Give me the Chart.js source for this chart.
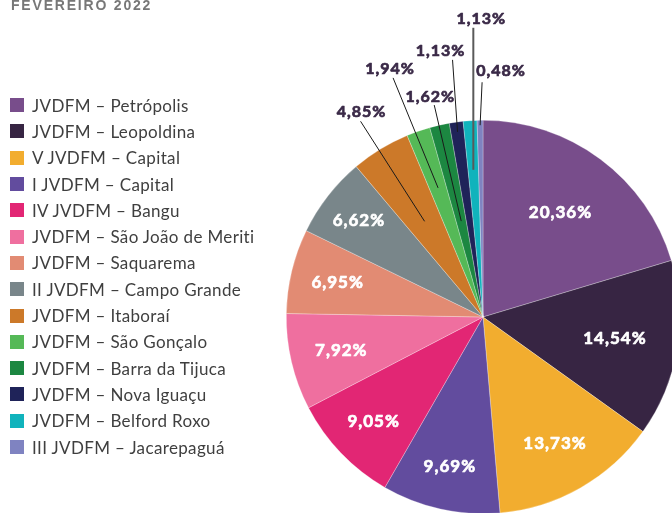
<!DOCTYPE html>
<html>
<head>
<meta charset="utf-8">
<script src="https://cdn.jsdelivr.net/npm/chart.js@4/dist/chart.umd.min.js"></script>
<style>
  html, body { margin: 0; padding: 0; background: #fff; }
  body { width: 672px; height: 513px; overflow: hidden; position: relative; font-family: Lato, "Open Sans", sans-serif; }
  #wrap { position: absolute; left: 0; top: 0; width: 700px; height: 540px; }
  #title { position: absolute; left: 11px; top: -3px; z-index: 2; font: bold 14px "Liberation Sans", Arial, sans-serif; letter-spacing: 1.8px; color: #777; }
  #legend { position: absolute; left: 10px; top: 92px; z-index: 2; margin: 0; padding: 0; list-style: none; }
  #legend li { height: 26.3px; display: flex; align-items: center; font-size: 17px; letter-spacing: 0.35px; color: #3f3f3f; white-space: nowrap; }
  #legend span { width: 14px; height: 14px; margin-right: 8px; flex: none; }
</style>
</head>
<body>
<div id="title">FEVEREIRO 2022</div>
<ul id="legend"></ul>
<div id="wrap"><canvas id="chart-pie" width="700" height="540"></canvas></div>
<script>
(function () {
  "use strict";

  const categories = [
    "JVDFM – Petrópolis",
    "JVDFM – Leopoldina",
    "V JVDFM – Capital",
    "I JVDFM – Capital",
    "IV JVDFM – Bangu",
    "JVDFM – São João de Meriti",
    "JVDFM – Saquarema",
    "II JVDFM – Campo Grande",
    "JVDFM – Itaboraí",
    "JVDFM – São Gonçalo",
    "JVDFM – Barra da Tijuca",
    "JVDFM – Nova Iguaçu",
    "JVDFM – Belford Roxo",
    "III JVDFM – Jacarepaguá",
  ];

  const shares = [20.36, 14.54, 13.73, 9.69, 9.05, 7.92, 6.95, 6.62, 4.85, 1.94, 1.62, 1.13, 1.13, 0.48];

  const sliceColors = [
    "#784d8b", "#372543", "#f2ad2f", "#624c9e", "#e22674", "#ef6f9f", "#e28b73",
    "#79868a", "#cc7929", "#55b957", "#1c8741", "#1f2359", "#10b3bc", "#7f83c1",
  ];

  // label placement (fraction of the radius along each slice's middle angle)
  const INSIDE_R = [0.66, 0.68, 0.74, 0.78, 0.77, 0.74, 0.76, 0.80];
  // small slices: [line start (radius fraction), line dx, line dy, text dx, text dy, colour, width]
  const LEADERS = [
    [0.57, -64, -100, 1, -9, "#1a1a1a", 1],
    [0.695, -45, -110, -3, -9, "#1a1a1a", 1],
    [0.50, -27, -116, -4, -8, "#1a1a1a", 1],
    [0.95, -5, -72, -12, -9, "#1a1a1a", 1],
    [0.75, 0, -142, 8, -9, "#5a5a5a", 2],
    [0.975, 2, -43, 19, -11, "#1a1a1a", 1],
  ];

  const pct = (v) => v.toFixed(2).replace(".", ",") + "%";

  // HTML legend
  const legend = document.getElementById("legend");
  categories.forEach((name, i) => {
    const li = document.createElement("li");
    const sw = document.createElement("span");
    sw.style.background = sliceColors[i];
    li.appendChild(sw);
    li.appendChild(document.createTextNode(name));
    legend.appendChild(li);
  });

  // bold text with a thin outline of the same colour, to get the heavy look
  function heavyText(ctx, text, x, y, color) {
    ctx.fillStyle = color;
    ctx.strokeStyle = color;
    ctx.lineWidth = 0.7;
    ctx.lineJoin = "round";
    ctx.strokeText(text, x, y);
    ctx.fillText(text, x, y);
  }

  const sliceLabels = {
    id: "sliceLabels",
    afterDatasetsDraw(chart) {
      const ctx = chart.ctx;
      chart.getDatasetMeta(0).data.forEach((arc, i) => {
        const p = arc.getProps(["x", "y", "startAngle", "endAngle", "outerRadius"], true);
        const mid = (p.startAngle + p.endAngle) / 2;
        const at = (f) => [p.x + Math.cos(mid) * p.outerRadius * f, p.y + Math.sin(mid) * p.outerRadius * f];
        ctx.save();
        ctx.textAlign = "center";
        ctx.textBaseline = "middle";
        ctx.letterSpacing = "1px";
        if (i < INSIDE_R.length) {
          const [tx, ty] = at(INSIDE_R[i]);
          ctx.font = "bold 17px Lato";
          heavyText(ctx, pct(shares[i]), tx, ty, "#ffffff");
        } else {
          const [r0, ldx, ldy, dx, dy, lc, lw] = LEADERS[i - INSIDE_R.length];
          const [x0, y0] = at(r0);
          const x1 = x0 + ldx, y1 = y0 + ldy;
          ctx.strokeStyle = lc;
          ctx.lineWidth = lw;
          ctx.beginPath();
          ctx.moveTo(x0, y0);
          ctx.lineTo(x1, y1);
          ctx.stroke();
          ctx.font = "bold 16px Lato";
          heavyText(ctx, pct(shares[i]), x1 + dx, y1 + dy, "#3a2947");
        }
        ctx.restore();
      });
    },
  };

  const el = document.getElementById("chart-pie");
  if (!el || typeof Chart === "undefined") return;
  new Chart(el, {
    type: "pie",
    data: {
      labels: categories,
      datasets: [{
        data: shares,
        backgroundColor: sliceColors,
        borderWidth: 0.6,
        borderColor: "rgba(255,255,255,0.45)",
      }],
    },
    options: {
      responsive: false,
      animation: false,
      devicePixelRatio: 1,
      layout: { padding: { left: 286, top: 120, right: 20, bottom: 26 } },
      plugins: { legend: { display: false }, tooltip: { enabled: false } },
    },
    plugins: [sliceLabels],
  });
})();
</script>
</body>
</html>
